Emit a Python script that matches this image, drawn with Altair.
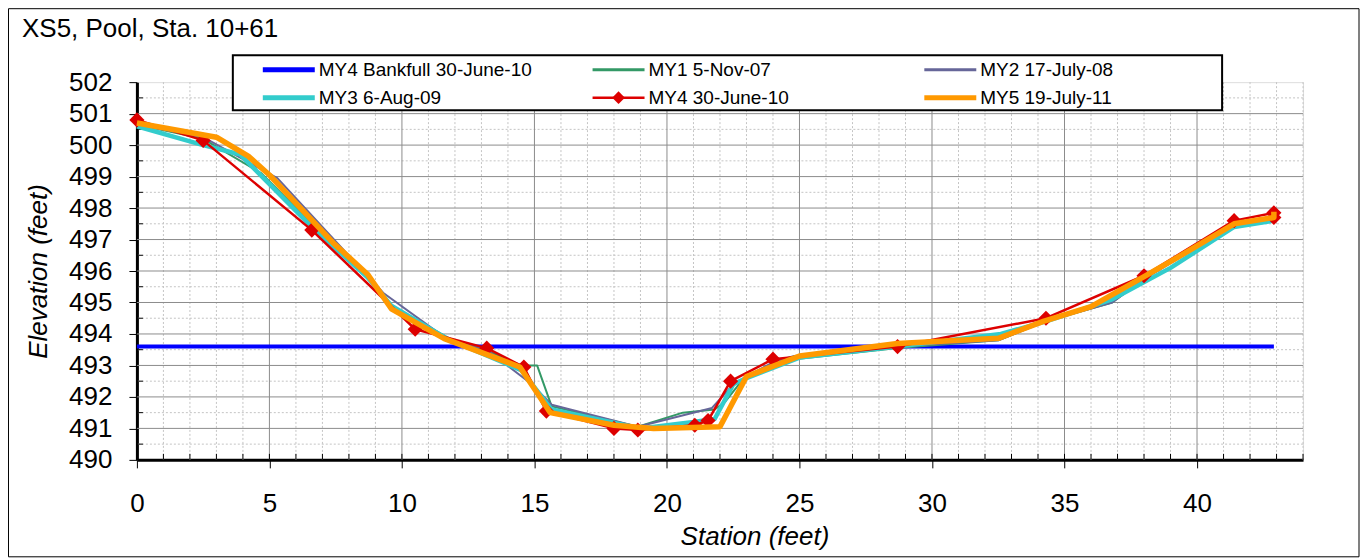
import altair as alt
import pandas as pd
import numpy as np

# ---------------- data ----------------
TITLE = "XS5, Pool, Sta. 10+61"
X_TITLE = "Station (feet)"
Y_TITLE = "Elevation (feet)"

series_names = ["MY4 Bankfull 30-June-10", "MY1 5-Nov-07", "MY2 17-July-08",
                "MY3 6-Aug-09", "MY4 30-June-10", "MY5 19-July-11"]

bankfull_x = [0, 42.9]
bankfull_y = [493.6, 493.6]

my1_x = [0, 2.5, 4.7, 6.6, 8.7, 9.6, 11.8, 13.4, 14.5, 15.1, 15.65, 18.9, 20.6, 21.8,
         22.2, 22.9, 24.8, 28.7, 32.5, 34.3, 36.8, 37.9, 41.4, 42.9]
my1_y = [500.65, 500.2, 499.1, 497.5, 495.8, 494.9, 493.85, 493.4, 493.0, 493.0, 491.7,
         491.05, 491.5, 491.6, 491.85, 492.6, 493.2, 493.55, 493.8, 494.4, 495.0, 495.7,
         497.5, 497.7]

my2_x = [0, 2.5, 5.3, 9.3, 11.6, 13.2, 14.9, 15.65, 18.9, 21.7, 22.4, 23.0, 24.0, 24.8,
         28.7, 32.5, 34.3, 36.8, 38.1, 41.4, 42.9]
my2_y = [500.65, 500.25, 498.95, 495.3, 493.9, 493.5, 492.4, 491.75, 491.05, 491.65,
         492.3, 492.65, 493.1, 493.3, 493.6, 493.8, 494.4, 495.0, 495.8, 497.45, 497.7]

my3_x = [0, 2.5, 3.9, 6.6, 8.7, 9.6, 11.7, 14.5, 15.65, 19.0, 21.0, 21.8, 22.5, 23.0,
         25.0, 28.7, 32.6, 34.3, 36.8, 39.0, 41.4, 42.9]
my3_y = [500.6, 500.0, 499.7, 497.4, 495.8, 494.9, 493.85, 492.85, 491.6, 491.0, 491.2,
         491.3, 492.4, 492.6, 493.25, 493.6, 494.0, 494.4, 495.1, 496.1, 497.4, 497.6]

my4_x = [0, 2.5, 6.6, 10.5, 13.2, 14.6, 15.45, 18.0, 18.9, 21.05, 21.55, 22.4, 24.0,
         28.7, 34.3, 38.0, 41.4, 42.9, 42.9]
my4_y = [500.8, 500.15, 497.3, 494.15, 493.55, 492.95, 491.55, 491.0, 490.95, 491.1,
         491.25, 492.5, 493.2, 493.6, 494.5, 495.85, 497.6, 497.85, 497.7]

my5_x = [0, 3.0, 4.2, 5.0, 7.4, 8.7, 9.6, 11.6, 14.45, 15.6, 18.0, 19.5, 22.0, 23.0,
         25.0, 28.7, 32.5, 34.2, 36.0, 38.1, 39.2, 41.4, 42.9, 42.9]
my5_y = [500.7, 500.25, 499.65, 499.05, 496.9, 495.9, 494.8, 493.85, 492.95, 491.5, 491.1,
         491.0, 491.05, 492.65, 493.3, 493.7, 493.86, 494.4, 494.87, 495.87, 496.4,
         497.5, 497.7, 497.88]

x_ticks = [0, 5, 10, 15, 20, 25, 30, 35, 40]
y_ticks = list(range(490, 503))

# ---------------- styles ----------------
FONT = "Liberation Sans"
colors = ["#0000FF", "#339966", "#666699", "#33CCCC", "#DD0000", "#FF9900"]
widths = [4, 2, 2, 4.5, 2.5, 5.5]
legend_widths = [5, 3, 3, 5, 2.5, 5]

W, H = 1167, 378

xscale = alt.Scale(domain=[0, 44], nice=False, zero=False)
yscale = alt.Scale(domain=[490, 502], nice=False, zero=False)

xaxis = alt.Axis(values=x_ticks, title=X_TITLE, titleX=618, titleY=85,
                 titleBaseline="alphabetic", titleFont=FONT, titleFontSize=26,
                 titleFontStyle="italic", titleFontWeight="normal", titleColor="black",
                 labelFont=FONT, labelFontSize=26, labelColor="black",
                 labelBaseline="alphabetic", labelPadding=44, labelFlush=False,
                 labelOverlap=False, tickSize=8, tickColor="black", tickWidth=1,
                 domainColor="black", domainWidth=3, grid=False)
yaxis = alt.Axis(values=y_ticks, title=Y_TITLE, titleX=-90, titleY=H / 2,
                 titleBaseline="alphabetic", titleAlign="center", titleFont=FONT,
                 titleFontSize=26, titleFontStyle="italic", titleFontWeight="normal",
                 titleColor="black", labelFont=FONT, labelFontSize=26,
                 labelColor="black", labelPadding=17, labelFlush=False,
                 labelOverlap=False, tickSize=8, tickColor="black", tickWidth=1,
                 domainColor="black", domainWidth=3, grid=False)


def X():
    return alt.X("station:Q", scale=xscale, axis=xaxis)


def Y():
    return alt.Y("elev:Q", scale=yscale, axis=yaxis)


one = pd.DataFrame({"a": [0]})
layers = []

# grid
minor_x = pd.DataFrame({"station": [v for v in range(1, 45) if v % 5]})
minor_y = pd.DataFrame({"elev": np.arange(490.5, 502, 1.0)})
major_x = pd.DataFrame({"station": [5, 10, 15, 20, 25, 30, 35, 40]})
major_y = pd.DataFrame({"elev": list(range(491, 502))})
layers.append(alt.Chart(minor_x).mark_rule(color="#c4c4c4", strokeWidth=1, strokeDash=[2, 2]).encode(x=X()))
layers.append(alt.Chart(minor_y).mark_rule(color="#c4c4c4", strokeWidth=1, strokeDash=[2, 2]).encode(y=Y()))
layers.append(alt.Chart(major_x).mark_rule(color="#8c8c8c", strokeWidth=1).encode(x=X()))
layers.append(alt.Chart(major_y).mark_rule(color="#8c8c8c", strokeWidth=1).encode(y=Y()))

# minor ticks (inside)
tick_x = pd.DataFrame({"station": list(range(1, 45))})
layers.append(alt.Chart(tick_x).mark_rule(color="black", strokeWidth=1).encode(
    x=X(), y=alt.value(H - 6), y2=alt.value(H)))
layers.append(alt.Chart(minor_y).mark_rule(color="black", strokeWidth=1).encode(
    y=Y(), x=alt.value(0), x2=alt.value(6)))


def line_layer(xs, ys, color, width):
    df = pd.DataFrame({"station": xs, "elev": ys, "i": list(range(len(xs)))})
    return alt.Chart(df).mark_line(color=color, strokeWidth=width, strokeJoin="round").encode(
        x=X(), y=Y(), order=alt.Order("i:Q"))


layers.append(line_layer(bankfull_x, bankfull_y, colors[0], widths[0]))
layers.append(line_layer(my1_x, my1_y, colors[1], widths[1]))
layers.append(line_layer(my2_x, my2_y, colors[2], widths[2]))
layers.append(line_layer(my3_x, my3_y, colors[3], widths[3]))
layers.append(line_layer(my4_x, my4_y, colors[4], widths[4]))
my4_df = pd.DataFrame({"station": my4_x, "elev": my4_y})
layers.append(alt.Chart(my4_df).mark_point(shape="diamond", filled=True, size=230,
                                            color=colors[4], opacity=1).encode(x=X(), y=Y()))
layers.append(line_layer(my5_x, my5_y, colors[5], widths[5]))

# legend box (manual, Excel style)
layers.append(alt.Chart(one).mark_rect(fill="white", stroke="black", strokeWidth=2).encode(
    x=alt.value(96), x2=alt.value(1086), y=alt.value(-27), y2=alt.value(28)))
col_x = [126, 456, 788]
row_y = [-12.5, 15.5]
for k, name in enumerate(series_names):
    cx = col_x[k % 3]
    ry = row_y[k // 3]
    layers.append(alt.Chart(one).mark_rule(color=colors[k], strokeWidth=legend_widths[k]).encode(
        x=alt.value(cx), x2=alt.value(cx + 52), y=alt.value(ry)))
    if k == 4:
        layers.append(alt.Chart(one).mark_point(shape="diamond", filled=True, size=160,
                                                color=colors[k], opacity=1).encode(
            x=alt.value(cx + 26), y=alt.value(ry)))
    layers.append(alt.Chart(one).mark_text(text=name, font=FONT, fontSize=19, color="black",
                                           align="left", baseline="middle").encode(
        x=alt.value(cx + 56), y=alt.value(ry)))

# title
layers.append(alt.Chart(one).mark_text(text=TITLE, font=FONT, fontSize=26, color="black",
                                       align="left", baseline="alphabetic").encode(
    x=alt.value(-115), y=alt.value(-45)))

# outer frame
layers.append(alt.Chart(one).mark_rect(fill="white", fillOpacity=0, stroke="black", strokeWidth=1).encode(
    x=alt.value(-128.5), x2=alt.value(1223), y=alt.value(-73.5), y2=alt.value(475)))

chart = alt.layer(*layers).properties(
    width=W, height=H,
    padding={"left": 129, "top": 74, "right": 58, "bottom": 98},
    autosize=alt.AutoSizeParams(type="none"),
).configure_view(stroke="black", strokeWidth=2).configure(font=FONT, background="white")

chart.save("out.html", embed_options={"renderer": "svg", "actions": False})
